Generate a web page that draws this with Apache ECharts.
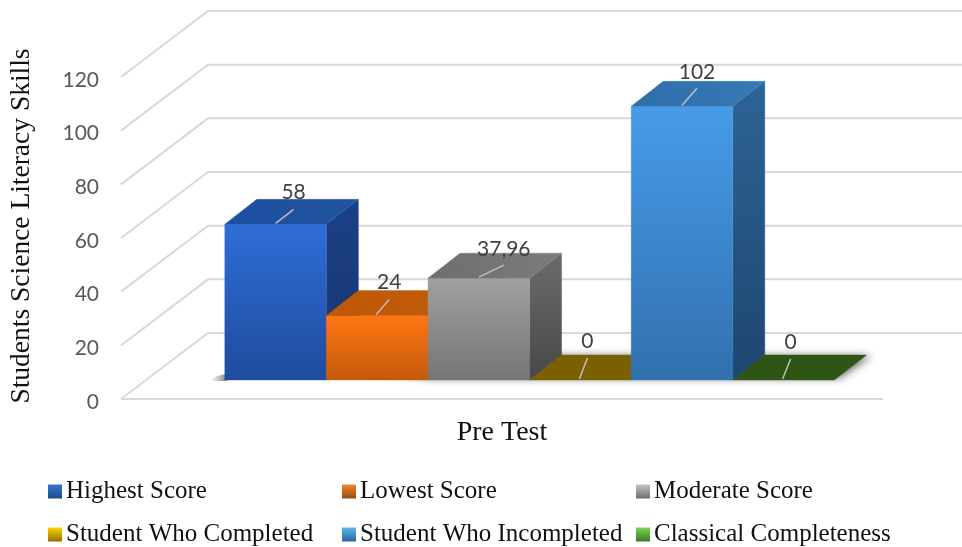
<!DOCTYPE html>
<html>
<head>
<meta charset="utf-8">
<style>html,body{margin:0;padding:0;background:#fff}#chart{width:962px;height:547px}</style>
<script src="https://cdn.jsdelivr.net/npm/echarts@6/dist/echarts.min.js"></script>
</head>
<body>
<div id="chart"></div>
<script>
// ---- data ----
const categories = ['Pre Test'];
const seriesNames = ['Highest Score','Lowest Score','Moderate Score','Student Who Completed','Student Who Incompleted','Classical Completeness'];
const highestScore = [58];
const lowestScore = [24];
const moderateScore = [37.96];
const studentWhoCompleted = [0];
const studentWhoIncompleted = [102];
const classicalCompleteness = [0];
const yTicks = [0,20,40,60,80,100,120];
const yAxisTitle = 'Students Science Literacy Skills';

// ---- styling ----
const seriesValues = [highestScore,lowestScore,moderateScore,studentWhoCompleted,studentWhoIncompleted,classicalCompleteness];
const SERIF = '"Liberation Serif", serif';
const SANS = 'Lato, "Open Sans", sans-serif';
const GRID_LINE = '#D9D9D9';
const WALL = [87,-66];      // depth of the chart box
const PLANE = [27.6,-19];   // where the bars stand inside the box
const DEPTH = [32,-25];     // depth of each bar
const BAND_FILL = 0.8;
const G = (a,b,x2,y2)=>new echarts.graphic.LinearGradient(0,0,x2===undefined?0:x2,y2===undefined?1:y2,[{offset:0,color:a},{offset:1,color:b}]);
const skins = [
 {front:['#2F6DD8','#1F4C9C'],top:['#1D4EA2','#22559F'],side:['#1C4187','#17356E'],leadX:0,leader:[18,-14],label:[0,-17],icon:['#3A74CC','#1E4A8E']},
 {front:['#FF7612','#C45A0C'],top:['#BE5806','#C25C08'],side:['#A94E06','#8C4105'],leadX:-1,leader:[13,-15],label:[0,-17],icon:['#F08530','#974A10']},
 {front:['#A0A0A0','#757575'],top:['#6E6E6E','#7C7C7C'],side:['#6C6C6C','#484848'],leadX:0,leader:[25,-12],label:[0,-16],icon:['#C4C4C4','#6D6D6D']},
 {front:['#7A6000','#7A6000'],top:['#7A6000','#7A6000'],side:['#7A6000','#7A6000'],leadX:-1,leader:[8,-21],label:[0,-17],icon:['#FFD400','#967000']},
 {front:['#469BE8','#3270AE'],top:['#2F6EA9','#3779B6'],side:['#2D6496','#1E466F'],leadX:0,leader:[15,-17],label:[0,-16],icon:['#5FB5EC','#2B659B']},
 {front:['#2F5516','#2F5516'],top:['#2F5516','#2F5516'],side:['#2F5516','#2F5516'],leadX:-1,leader:[8,-20],label:[0,-17],icon:['#7BD552','#3B7A24']}
];
const fmt = v => String(v).replace('.',',');

function quad(points, fill){
  return {type:'polygon',shape:{points},style:{fill,stroke:fill,lineWidth:0.4,lineJoin:'round'},silent:true};
}

function renderFrame(params, api){
  const children = [];
  const band = api.size([1,0])[0];
  const c = api.coord([0,0]);
  const left = c[0]-band/2, right = c[0]+band/2;
  yTicks.forEach(t=>{
    const y = api.coord([0,t])[1];
    const pts = [[left,y],[left+WALL[0],y+WALL[1]],[962,y+WALL[1]]];
    children.push({type:'polyline',shape:{points:pts},style:{stroke:GRID_LINE,lineWidth:2,fill:null},silent:true});
  });
  children.push({type:'line',shape:{x1:left,y1:c[1],x2:right,y2:c[1]},style:{stroke:GRID_LINE,lineWidth:2},silent:true});
  // soft shadow under the whole row of bars
  const bw = band*BAND_FILL/seriesNames.length;
  const x0 = c[0]-band*BAND_FILL/2+PLANE[0], x1 = x0+bw*seriesNames.length, yb = c[1]+PLANE[1];
  children.push({type:'polygon',silent:true,shape:{points:[[x0+200,yb-3],[x1,yb-3],[x1+DEPTH[0],yb+DEPTH[1]],[x0+DEPTH[0],yb+DEPTH[1]]]},
    style:{fill:'#777',shadowBlur:9,shadowColor:'rgba(0,0,0,0.6)',shadowOffsetX:5,shadowOffsetY:1}});
  children.push({type:'polygon',silent:true,shape:{points:[[x0-8,yb-4],[x0+2,yb-6],[x0+2,yb+1],[x0-15,yb+1]]},
    style:{fill:new echarts.graphic.LinearGradient(0,0,1,0,[{offset:0,color:'rgba(130,130,130,0)'},{offset:1,color:'rgba(90,90,90,0.8)'}])}});
  return {type:'group',children};
}

function renderBar(idx){
  return function(params, api){
    const s = skins[idx];
    const value = api.value(1);
    const catX = api.coord([api.value(0),0])[0];
    const band = api.size([1,0])[0];
    const bw = band*BAND_FILL/seriesNames.length;
    const x = catX-band*BAND_FILL/2+idx*bw+PLANE[0];
    const yb = api.coord([0,0])[1]+PLANE[1];
    const yt = api.coord([0,value])[1]+PLANE[1];
    const r = x+bw, dx=DEPTH[0], dy=DEPTH[1];
    const children = [];
    if(yb-yt>0.5){
      children.push(quad([[r,yt],[r+dx,yt+dy],[r+dx,yb+dy],[r,yb]],G(s.side[0],s.side[1],0.3,1)));
      children.push(quad([[x,yt],[r,yt],[r,yb],[x,yb]],G(s.front[0],s.front[1])));
    }
    children.push(quad([[x,yt],[r,yt],[r+dx,yt+dy],[x+dx,yt+dy]],G(s.top[0],s.top[1],1,0)));
    const lx = x+bw/2+s.leadX, ly = yt-1;
    const ex = lx+s.leader[0], ey = ly+s.leader[1];
    children.push({type:'line',z2:10,silent:true,shape:{x1:lx,y1:ly,x2:ex,y2:ey},style:{stroke:'#BFBFBF',lineWidth:1.5}});
    children.push({type:'text',z2:11,silent:true,style:{x:ex+s.label[0],y:ey+s.label[1],text:fmt(value),fill:'#404040',
      font:'21px '+SANS,textAlign:'center',textVerticalAlign:'middle'}});
    return {type:'group',children};
  };
}

const legendSlots = [[48,479],[342,479],[636,479],[48,522],[342,522],[636,522]];

const option = {
  animation:false,
  backgroundColor:'#fff',
  legend: seriesNames.map((name,i)=>({
    orient:'horizontal',left:legendSlots[i][0],top:legendSlots[i][1],padding:0,itemWidth:14,itemHeight:14,itemGap:4,
    icon:'rect',selectedMode:false,
    textStyle:{fontFamily:SERIF,fontSize:25,color:'#111',padding:[0,0,0,-1]},
    data:[{name,itemStyle:{color:G(skins[i].icon[0],skins[i].icon[1]),borderWidth:0}}]
  })),
  grid:{left:121,right:79,top:77,bottom:148,containLabel:false},
  xAxis:{type:'category',data:categories,axisLine:{show:false},axisTick:{show:false},splitLine:{show:false},
    axisLabel:{margin:20,fontFamily:SERIF,fontSize:28,color:'#111'}},
  yAxis:{type:'value',min:yTicks[0],max:yTicks[yTicks.length-1],interval:20,axisLine:{show:false},axisTick:{show:false},splitLine:{show:false},
    axisLabel:{margin:22,fontFamily:SANS,fontSize:21,color:'#595959',verticalAlign:'top',lineHeight:6},
    name:yAxisTitle,nameLocation:'middle',nameRotate:90,nameGap:85,
    nameTextStyle:{fontFamily:SERIF,fontSize:27.5,color:'#111',padding:[0,0,0,24]}},
  series:[
    {type:'custom',name:'frame',silent:true,z:1,renderItem:renderFrame,data:[[categories[0],0]],encode:{x:0,y:1},tooltip:{show:false}}
  ].concat(seriesNames.map((name,i)=>({
    type:'custom',name,z:2,renderItem:renderBar(i),encode:{x:0,y:1},
    itemStyle:{color:skins[i].front[0]},
    data:seriesValues[i].map((v,k)=>[categories[k],v])
  })))
};
echarts.init(document.getElementById('chart'),null,{renderer:'canvas'}).setOption(option);
</script>
</body>
</html>
